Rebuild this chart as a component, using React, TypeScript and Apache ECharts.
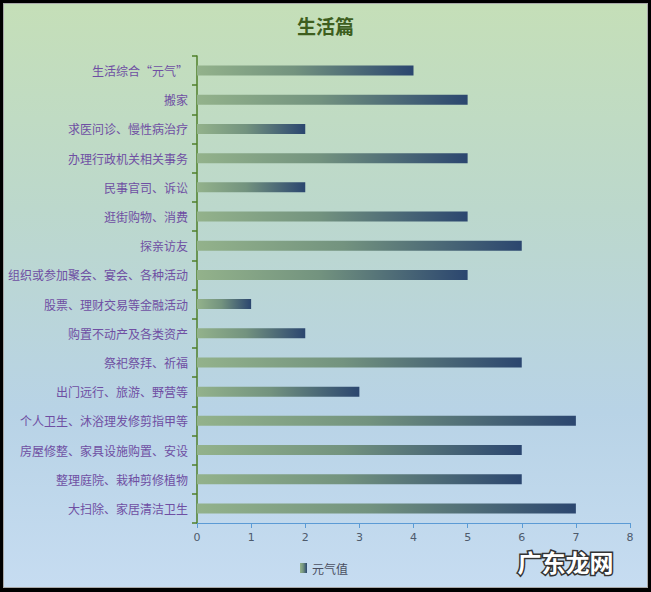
import React, { useEffect, useRef } from "react";
import * as echarts from "echarts";

const categories = [
  "生活综合“元气”",
  "搬家",
  "求医问诊、慢性病治疗",
  "办理行政机关相关事务",
  "民事官司、诉讼",
  "逛街购物、消费",
  "探亲访友",
  "组织或参加聚会、宴会、各种活动",
  "股票、理财交易等金融活动",
  "购置不动产及各类资产",
  "祭祀祭拜、祈福",
  "出门远行、旅游、野营等",
  "个人卫生、沐浴理发修剪指甲等",
  "房屋修整、家具设施购置、安设",
  "整理庭院、栽种剪修植物",
  "大扫除、家居清洁卫生",
];
const values = [4, 5, 2, 5, 2, 5, 6, 5, 1, 2, 6, 3, 7, 6, 6, 7];
const seriesName = "元气值";
const title = "生活篇";
const watermark = "广东龙网";

const barGradient = () =>
  new echarts.graphic.LinearGradient(0, 0, 1, 0, [
    { offset: 0, color: "#93b28b" },
    { offset: 0.45, color: "#73937f" },
    { offset: 1, color: "#2b466f" },
  ]);

export default function App() {
  const ref = useRef<HTMLDivElement>(null);
  useEffect(() => {
    if (!ref.current) return;
    const chart = echarts.init(ref.current, undefined, { renderer: "svg" });
    chart.setOption({
      animation: false,
      title: {
        text: title,
        left: "center",
        top: 11,
        textStyle: {
          color: "#3d5e1e",
          fontSize: 19,
          fontWeight: "bold",
          fontFamily: "Noto Sans CJK SC",
        },
      },
      grid: { left: 197, right: 21, top: 56, bottom: 69, containLabel: false },
      legend: {
        data: [{ name: seriesName, icon: "rect" }],
        left: 300,
        top: 562,
        padding: 0,
        itemWidth: 7,
        itemHeight: 10,
        itemGap: 4,
        textStyle: { color: "#4a4e60", fontSize: 12, fontFamily: "Noto Sans CJK SC" },
      },
      xAxis: {
        type: "value",
        min: 0,
        max: 8,
        interval: 1,
        splitLine: { show: false },
        axisLine: { show: true, lineStyle: { color: "#5b9bd5", width: 1 } },
        axisTick: { show: true, length: 5, lineStyle: { color: "#5b9bd5" } },
        axisLabel: {
          color: "#4e5a6c",
          fontSize: 11,
          margin: 9,
          fontFamily: "DejaVu Sans",
        },
      },
      yAxis: {
        type: "category",
        inverse: true,
        data: categories,
        axisLine: { show: true, lineStyle: { color: "#4f7f2a", width: 1.5 } },
        axisTick: { show: true, length: 5, lineStyle: { color: "#4f7f2a", width: 1.5 } },
        axisLabel: {
          color: "#6f4fa3",
          fontSize: 12,
          margin: 9,
          fontFamily: "Noto Sans CJK SC",
        },
      },
      series: [
        {
          name: seriesName,
          type: "bar",
          data: values,
          barWidth: 10,
          itemStyle: { color: barGradient() },
        },
      ],
      graphic: [
        {
          type: "text",
          left: 516,
          top: 548,
          style: {
            text: watermark,
            fill: "#ffffff",
            stroke: "#333333",
            lineWidth: 3,
            fontSize: 24,
            fontWeight: "bold",
            fontFamily: "Noto Sans CJK SC",
          },
        },
      ],
    });
    return () => chart.dispose();
  }, []);

  return (
    <div style={{ position: "fixed", left: 0, top: 0, width: 651, height: 592, background: "#000" }}>
      <div
        style={{
          position: "absolute",
          left: 3,
          top: 3,
          width: 645,
          height: 585,
          boxSizing: "border-box",
          border: "1px solid #a8a8a8",
          background: "linear-gradient(to bottom, #c5dfb8 0%, #bcd8cc 35%, #b8d3e6 70%, #c6dcf1 100%)",
        }}
      />
      <div ref={ref} style={{ position: "absolute", left: 0, top: 0, width: 651, height: 592 }} />
    </div>
  );
}
